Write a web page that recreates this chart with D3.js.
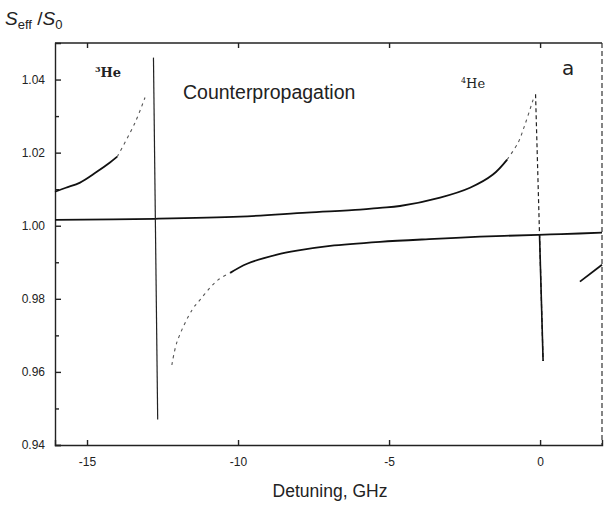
<!DOCTYPE html>
<html>
<head>
<meta charset="utf-8">
<script src="https://cdn.jsdelivr.net/npm/d3@7"></script>
<style>
  html, body { margin: 0; padding: 0; background: #fff; }
  svg { display: block; }
  text { font-family: "Liberation Sans", Arial, Helvetica, sans-serif; fill: #222; }
</style>
</head>
<body>
<svg id="chart" width="610" height="505"></svg>
<script>
// ---- data ----
const xTicks = [-15, -10, -5, 0];
const xTickLabels = ["-15", "-10", "-5", "0"];
const yTicks = [0.94, 0.96, 0.98, 1.00, 1.02, 1.04];
const yTickLabels = ["0.94", "0.96", "0.98", "1.00", "1.02", "1.04"];
const yMinorTicks = [0.95, 0.97, 0.99, 1.01, 1.03];

// 3He resonance: branch left of the resonance
const he3LeftX = [-16.06, -15.7, -15.23, -14.7, -14.24, -14.0, -13.41, -13.08];
const he3LeftY = [1.0093, 1.0104, 1.0118, 1.0146, 1.0173, 1.0189, 1.0282, 1.0351];
// 3He resonance: branch right of the resonance
const he3RightX = [-12.19, -12.02, -11.52, -11.26, -10.93, -10.66, -10.26, -9.70, -8.71, -8.05, -6.95, -5.30, -3.5, -1.99, -0.07, 0.7, 2.05];
const he3RightY = [0.9619, 0.9682, 0.9770, 0.9797, 0.9830, 0.9852, 0.9871, 0.9896, 0.9921, 0.9932, 0.9945, 0.9956, 0.9964, 0.9970, 0.9975, 0.9977, 0.9981];
// 4He resonance: branch left of the resonance
const he4LeftX = [-16.06, -12.75, -9.93, -7.72, -5.96, -5.30, -4.64, -3.31, -2.32, -1.56, -1.09, -0.73, -0.50, -0.23];
const he4LeftY = [1.0016, 1.0019, 1.0025, 1.0036, 1.0044, 1.0049, 1.0054, 1.0077, 1.0104, 1.0140, 1.0181, 1.0227, 1.0277, 1.0345];
// 4He resonance: branch right of the resonance
const he4RightX = [1.32, 2.05];
const he4RightY = [0.9847, 0.9893];

// vertical jumps through each resonance (top point -> bottom point)
const resonanceNames = ["3He", "4He"];
const resonanceTopX = [-12.80, -0.15];
const resonanceTopY = [1.046, 1.036];
const resonanceBottomX = [-12.66, 0.10];
const resonanceBottomY = [0.947, 0.963];

// ---- layout ----
const svg = d3.select("#chart");
const L = 55, R = 602, T = 43, B = 445;
const x = d3.scaleLinear().domain([-16.06, 2.05]).range([L, R]);
const y = d3.scaleLinear().domain([0.94, 1.05]).range([B, T]);

// frame: top & right borders
svg.append("line").attr("x1", L).attr("x2", R).attr("y1", T).attr("y2", T)
  .attr("stroke", "#222").attr("stroke-width", 1.3);
svg.append("line").attr("x1", R).attr("x2", R).attr("y1", T).attr("y2", B)
  .attr("stroke", "#333").attr("stroke-width", 1.2).attr("stroke-dasharray", "5,3");

// axes
const axisStyle = g => {
  g.select(".domain").attr("stroke", "#222").attr("stroke-width", 1.4);
  g.selectAll(".tick line").attr("stroke", "#222").attr("stroke-width", 1.4);
  g.selectAll(".tick text").style("font-size", "12px").attr("fill", "#333");
};

svg.append("g").attr("transform", `translate(0,${B})`)
  .call(d3.axisBottom(x).tickValues(xTicks).tickFormat((d, i) => xTickLabels[i])
    .tickSize(-5).tickPadding(12))
  .call(axisStyle);

svg.append("g").attr("transform", `translate(0,${T})`)
  .call(d3.axisTop(x).tickValues(xTicks).tickFormat("").tickSize(-5))
  .call(g => g.select(".domain").remove())
  .call(axisStyle);

svg.append("g").attr("transform", `translate(${L},0)`)
  .call(d3.axisLeft(y).tickValues(yTicks).tickFormat((d, i) => yTickLabels[i])
    .tickSize(-6).tickPadding(10))
  .call(axisStyle);

svg.append("g").attr("transform", `translate(${L},0)`)
  .call(d3.axisLeft(y).tickValues(yMinorTicks).tickFormat("").tickSize(-4))
  .call(g => g.select(".domain").remove())
  .call(axisStyle);

// ---- curves ----
const line = d3.line().x(d => x(d[0])).y(d => y(d[1])).curve(d3.curveCatmullRom.alpha(0.5));
const zip = (xs, ys) => xs.map((v, i) => [v, ys[i]]);

// split a branch into solid (near 1) and faint dotted parts (near the resonance)
function drawBranch(pts, faintTest) {
  let segs = [];
  let cur = null;
  pts.forEach(p => {
    const faint = faintTest(p);
    if (!cur || cur.faint !== faint) {
      const start = cur ? [cur.pts[cur.pts.length - 1]] : [];
      cur = { faint, pts: start.concat([p]) };
      segs.push(cur);
    } else cur.pts.push(p);
  });
  segs.forEach(s => {
    if (s.pts.length < 2) return;
    svg.append("path").attr("d", line(s.pts)).attr("fill", "none")
      .attr("stroke", s.faint ? "#555" : "#111")
      .attr("stroke-width", s.faint ? 1.1 : 1.8)
      .attr("stroke-dasharray", s.faint ? "3,4" : null);
  });
}

const far = p => p[1] > 1.019 || p[1] < 0.989;
drawBranch(zip(he3LeftX, he3LeftY), far);
drawBranch(zip(he3RightX, he3RightY), far);
drawBranch(zip(he4LeftX, he4LeftY), far);
drawBranch(zip(he4RightX, he4RightY), () => false);

// resonance jumps
resonanceNames.forEach((n, i) => {
  svg.append("line")
    .attr("x1", x(resonanceTopX[i])).attr("y1", y(resonanceTopY[i]))
    .attr("x2", x(resonanceBottomX[i])).attr("y2", y(resonanceBottomY[i]))
    .attr("stroke", "#222").attr("stroke-width", 1.2)
    .attr("stroke-dasharray", i === 1 ? "4,3" : null);
});
// solid lower part of the 4He jump
{
  const t = (0.9975 - resonanceTopY[1]) / (resonanceBottomY[1] - resonanceTopY[1]);
  const xm = resonanceTopX[1] + t * (resonanceBottomX[1] - resonanceTopX[1]);
  svg.append("line")
    .attr("x1", x(xm)).attr("y1", y(0.9975))
    .attr("x2", x(resonanceBottomX[1])).attr("y2", y(resonanceBottomY[1]))
    .attr("stroke", "#111").attr("stroke-width", 1.6);
}

// ---- texts ----
const yt = svg.append("text").attr("x", 5).attr("y", 25).style("font-size", "19px");
yt.append("tspan").style("font-style", "italic").text("S");
yt.append("tspan").attr("dy", 4).style("font-size", "13px").text("eff");
yt.append("tspan").attr("dy", -4).text(" /");
yt.append("tspan").style("font-style", "italic").text("S");
yt.append("tspan").attr("dy", 4).style("font-size", "13px").text("0");

svg.append("text").attr("x", 330).attr("y", 497).attr("text-anchor", "middle")
  .style("font-size", "17.5px").text("Detuning, GHz");

svg.append("text").attr("x", 183).attr("y", 99).style("font-size", "19.5px")
  .text("Counterpropagation");

const h3 = svg.append("text").attr("x", 95).attr("y", 77)
  .style("font-family", "'DejaVu Serif', serif").style("font-size", "13px").style("font-weight", "bold");
h3.append("tspan").attr("dy", -5).style("font-size", "8px").text("3");
h3.append("tspan").attr("dy", 5).text("He");

const h4 = svg.append("text").attr("x", 461).attr("y", 88)
  .style("font-family", "'DejaVu Serif', serif").style("font-size", "13px");
h4.append("tspan").attr("dy", -5).style("font-size", "8px").text("4");
h4.append("tspan").attr("dy", 5).text("He");

svg.append("text").attr("x", 562).attr("y", 75)
  .style("font-family", "'DejaVu Sans', sans-serif").style("font-size", "20px").text("a");
</script>
</body>
</html>
